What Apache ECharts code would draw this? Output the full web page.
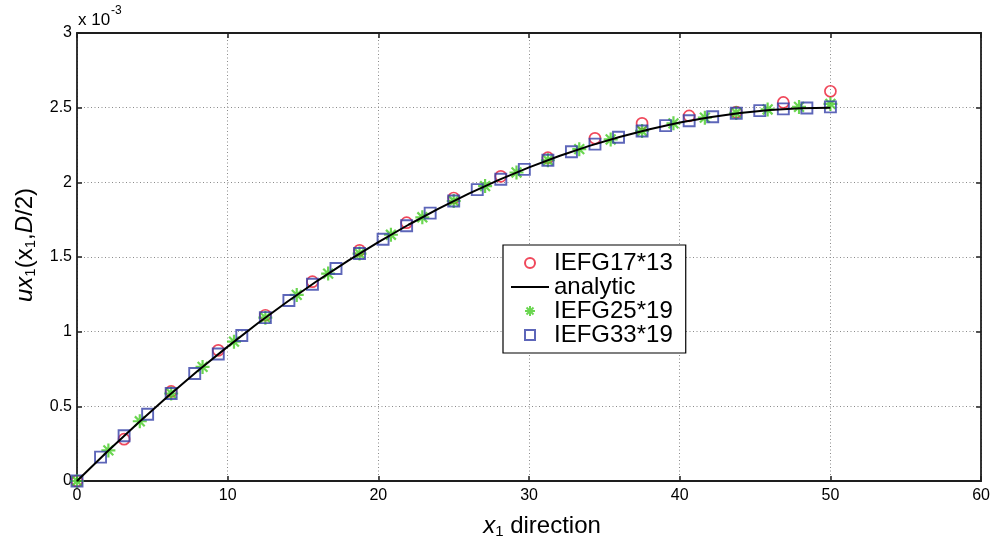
<!DOCTYPE html>
<html>
<head>
<meta charset="utf-8">
<script src="https://cdn.jsdelivr.net/npm/echarts@6/dist/echarts.min.js"></script>
<style>
  html, body { margin: 0; padding: 0; background: #fff; }
  #chart { width: 993px; height: 538px; }
</style>
</head>
<body>
<div id="chart"></div>
<script>
// Axis ticks (displacement axis is in units of 10^-3)
const xTicks = [0, 10, 20, 30, 40, 50, 60];
const yTicks = [0, 0.5, 1, 1.5, 2, 2.5, 3];

// IEFG with 17*13 nodes
const x17 = [0, 3.125, 6.25, 9.375, 12.5, 15.625, 18.75, 21.875, 25, 28.125, 31.25, 34.375, 37.5, 40.625, 43.75, 46.875, 50];
const u17 = [0, 0.28, 0.60, 0.875, 1.11, 1.335, 1.545, 1.73, 1.895, 2.04, 2.165, 2.295, 2.395, 2.445, 2.47, 2.535, 2.61];

// Analytic solution
const xAna = [0, 2, 4, 6, 8, 10, 12, 14, 16, 18, 20, 22, 24, 26, 28, 30, 32, 34, 36, 38, 40, 42, 44, 46, 48, 50];
const uAna = [0, 0.196, 0.384, 0.564, 0.736, 0.900, 1.056, 1.204, 1.344, 1.476, 1.600, 1.716, 1.824, 1.924, 2.016, 2.100, 2.176, 2.244, 2.304, 2.356, 2.400, 2.436, 2.464, 2.484, 2.496, 2.500];

// IEFG with 25*19 nodes
const x25 = [0, 2.083, 4.167, 6.25, 8.333, 10.417, 12.5, 14.583, 16.667, 18.75, 20.833, 22.917, 25, 27.083, 29.167, 31.25, 33.333, 35.417, 37.5, 39.583, 41.667, 43.75, 45.833, 47.917, 50];
const u25 = [0, 0.205, 0.40, 0.586, 0.764, 0.933, 1.094, 1.246, 1.389, 1.523, 1.649, 1.766, 1.875, 1.975, 2.066, 2.148, 2.222, 2.287, 2.344, 2.395, 2.433, 2.465, 2.488, 2.505, 2.525];

// IEFG with 33*19 nodes
const x33 = [0, 1.5625, 3.125, 4.6875, 6.25, 7.8125, 9.375, 10.9375, 12.5, 14.0625, 15.625, 17.1875, 18.75, 20.3125, 21.875, 23.4375, 25, 26.5625, 28.125, 29.6875, 31.25, 32.8125, 34.375, 35.9375, 37.5, 39.0625, 40.625, 42.1875, 43.75, 45.3125, 46.875, 48.4375, 50];
const u33 = [0, 0.16, 0.303, 0.447, 0.586, 0.720, 0.850, 0.974, 1.094, 1.209, 1.318, 1.423, 1.523, 1.619, 1.709, 1.794, 1.875, 1.951, 2.021, 2.087, 2.148, 2.205, 2.256, 2.302, 2.344, 2.380, 2.412, 2.439, 2.463, 2.48, 2.492, 2.498, 2.505];

const zip = (xs, ys) => xs.map((x, i) => [x, ys[i]]);

const FONT = "'Liberation Sans', Arial, sans-serif";
const RED = '#ec1a32';
const GREEN = '#46cc26';
const BLUE = '#3440a8';
const AXIS = '#1e1e1e';
const STAR = 'path://M0,5L10,5M5,0L5,10M1.5,1.5L8.5,8.5M8.5,1.5L1.5,8.5';
const SQUARE = 'path://M0,0L10,0L10,10L0,10Z';
const DASH = 'path://M0,0L38,0L38,2L0,2Z';

const gridLine = { show: true, lineStyle: { color: '#8a8a8a', width: 1, type: [1, 2.5] } };

const chart = echarts.init(document.getElementById('chart'), null, { renderer: 'canvas' });

chart.setOption({
  animation: false,
  backgroundColor: '#fff',
  grid: { left: 77, right: 11, top: 33, bottom: 57, containLabel: false },
  xAxis: [
    {
      type: 'value', min: xTicks[0], max: xTicks[xTicks.length - 1], interval: 10,
      position: 'bottom',
      axisLine: { onZero: false, lineStyle: { color: AXIS, width: 1.8 } },
      axisTick: { inside: true, length: 5, lineStyle: { color: AXIS, width: 1.5 } },
      axisLabel: { color: '#000', fontFamily: FONT, fontSize: 16, margin: 7 },
      splitLine: gridLine
    },
    {
      type: 'value', min: xTicks[0], max: xTicks[xTicks.length - 1], interval: 10,
      position: 'top',
      axisLine: { onZero: false, lineStyle: { color: AXIS, width: 1.8 } },
      axisTick: { inside: true, length: 5, lineStyle: { color: AXIS, width: 1.5 } },
      axisLabel: { show: false },
      splitLine: { show: false }
    }
  ],
  yAxis: [
    {
      type: 'value', min: yTicks[0], max: yTicks[yTicks.length - 1], interval: 0.5,
      position: 'left',
      axisLine: { onZero: false, lineStyle: { color: AXIS, width: 1.8 } },
      axisTick: { inside: true, length: 5, lineStyle: { color: AXIS, width: 1.5 } },
      axisLabel: { color: '#000', fontFamily: FONT, fontSize: 16, margin: 5 },
      splitLine: gridLine
    },
    {
      type: 'value', min: yTicks[0], max: yTicks[yTicks.length - 1], interval: 0.5,
      position: 'right',
      axisLine: { onZero: false, lineStyle: { color: AXIS, width: 1.8 } },
      axisTick: { inside: true, length: 5, lineStyle: { color: AXIS, width: 1.5 } },
      axisLabel: { show: false },
      splitLine: { show: false }
    }
  ],
  legend: {
    left: 503, top: 245,
    orient: 'vertical',
    backgroundColor: '#fff',
    borderColor: '#000', borderWidth: 1.2, borderRadius: 0,
    padding: [6, 13, 6, 8],
    itemGap: 0,
    itemWidth: 38, itemHeight: 10,
    textStyle: { color: '#000', fontFamily: FONT, fontSize: 24, lineHeight: 23 },
    data: [
      { name: 'IEFG17*13', icon: 'circle' },
      { name: 'analytic', icon: DASH, itemStyle: { color: '#000', borderWidth: 0 } },
      { name: 'IEFG25*19', icon: STAR },
      { name: 'IEFG33*19', icon: SQUARE }
    ]
  },
  series: [
    {
      name: 'IEFG17*13', type: 'scatter', data: zip(x17, u17),
      symbol: 'circle', symbolSize: 11,
      itemStyle: { color: 'rgba(0,0,0,0)', borderColor: RED, borderWidth: 1.7 },
      silent: true
    },
    {
      name: 'analytic', type: 'line', data: zip(xAna, uAna),
      symbol: 'none', showSymbol: false,
      lineStyle: { color: '#000', width: 2 },
      itemStyle: { color: '#000' },
      silent: true
    },
    {
      name: 'IEFG25*19', type: 'scatter', data: zip(x25, u25),
      symbol: STAR, symbolSize: 14,
      itemStyle: { color: GREEN, borderColor: GREEN, borderWidth: 2.2 },
      silent: true
    },
    {
      name: 'IEFG33*19', type: 'scatter', data: zip(x33, u33),
      symbol: SQUARE, symbolSize: 11,
      itemStyle: { color: 'rgba(0,0,0,0)', borderColor: BLUE, borderWidth: 1.9 },
      silent: true
    }
  ],
  graphic: [
    // exponent of the displacement axis
    { type: 'text', left: 78, top: 12, style: { text: 'x 10', fontFamily: FONT, fontSize: 17, fill: '#000' } },
    { type: 'text', left: 111, top: 5, style: { text: '-3', fontFamily: FONT, fontSize: 12, fill: '#000' } },
    // horizontal axis title
    {
      type: 'text', x: 542, y: 526,
      style: {
        text: '{i|x}{s|1}{n| direction}',
        align: 'center', verticalAlign: 'middle',
        fill: '#000',
        rich: {
          i: { fontFamily: FONT, fontSize: 24, fontStyle: 'italic', lineHeight: 26 },
          s: { fontFamily: FONT, fontSize: 15, lineHeight: 14, verticalAlign: 'bottom' },
          n: { fontFamily: FONT, fontSize: 24, lineHeight: 26 }
        }
      }
    },
    // vertical axis title
    {
      type: 'text', x: 25, y: 245, rotation: Math.PI / 2,
      style: {
        text: '{i|ux}{s|1}{n|(x}{s|1}{n|,}{i|D}{n|/2)}',
        align: 'center', verticalAlign: 'middle',
        fill: '#000',
        rich: {
          i: { fontFamily: FONT, fontSize: 24, fontStyle: 'italic', lineHeight: 26 },
          s: { fontFamily: FONT, fontSize: 15, lineHeight: 14, verticalAlign: 'bottom' },
          n: { fontFamily: FONT, fontSize: 24, lineHeight: 26 }
        }
      }
    }
  ]
});
</script>
</body>
</html>
